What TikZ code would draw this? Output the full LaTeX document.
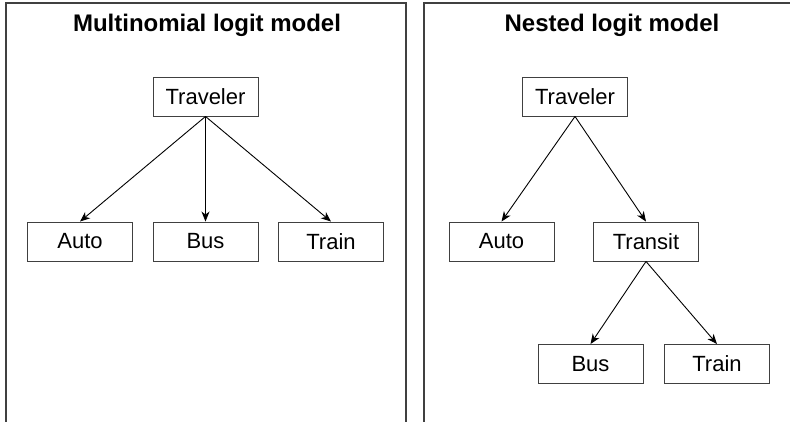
\documentclass[tikz,border=0pt]{standalone}
\usepackage{fontspec}
\setmainfont{Liberation Sans}
\usetikzlibrary{calc, arrows.meta, positioning}

\begin{document}
\begin{tikzpicture}[%
    x=1pt, y=-1pt,         % pixel-like units, y downward
    >={Stealth[length=10pt, width=8pt, inset=3pt]},
    every node/.style={font=\fontsize{22}{26}\selectfont},
    choicebox/.style={draw=black!75, line width=0.9pt, minimum width=105pt,
                      minimum height=39pt, inner sep=0pt},
    panelline/.style={draw=black!75, line width=1.5pt},
    titletext/.style={font=\fontsize{24}{28}\selectfont\bfseries, anchor=base},
    choicearrow/.style={->, line width=0.9pt},
    ]

\useasboundingbox (0,0) rectangle (790,422);

%==================================================
% Panels
%==================================================
\coordinate (L0) at (6,422);
\coordinate (L1) at (6,3);
\coordinate (L2) at (406,3);
\coordinate (L3) at (406,422);
\coordinate (R0) at (424,422);
\coordinate (R1) at (424,3);
\coordinate (R2) at (790,3);

\draw[panelline] (L0) -- (L1) -- (L2) -- (L3);
\draw[panelline] (R0) -- (R1) -- (R2);

\node[titletext] (mnltitle) at (207,31.5) {Multinomial logit model};
\node[titletext] (nltitle)  at (612,31.5) {Nested logit model};

%==================================================
% Multinomial logit model
%==================================================
\node[choicebox] (mtrav)  at (205.5,96.5)  {Traveler};
\node[choicebox] (mauto)  at (80,241.5)    {Auto};
\node[choicebox] (mbus)   at (205.5,241.5) {Bus};
\node[choicebox] (mtrain) at (331,241.5)   {Train};

\draw[choicearrow] (mtrav.south) -- (mauto.north);
\draw[choicearrow] (mtrav.south) -- (mbus.north);
\draw[choicearrow] (mtrav.south) -- (mtrain.north);

%==================================================
% Nested logit model
%==================================================
\node[choicebox] (ntrav)    at (575,96.5)    {Traveler};
\node[choicebox] (nauto)    at (501.5,241.5) {Auto};
\node[choicebox] (ntransit) at (646,241.5)   {Transit};
\node[choicebox] (nbus)     at (590.5,364)   {Bus};
\node[choicebox] (ntrain)   at (717,364)     {Train};

\draw[choicearrow] (ntrav.south) -- (nauto.north);
\draw[choicearrow] (ntrav.south) -- (ntransit.north);
\draw[choicearrow] (ntransit.south) -- (nbus.north);
\draw[choicearrow] (ntransit.south) -- (ntrain.north);

%==================================================
\end{tikzpicture}
\end{document}
